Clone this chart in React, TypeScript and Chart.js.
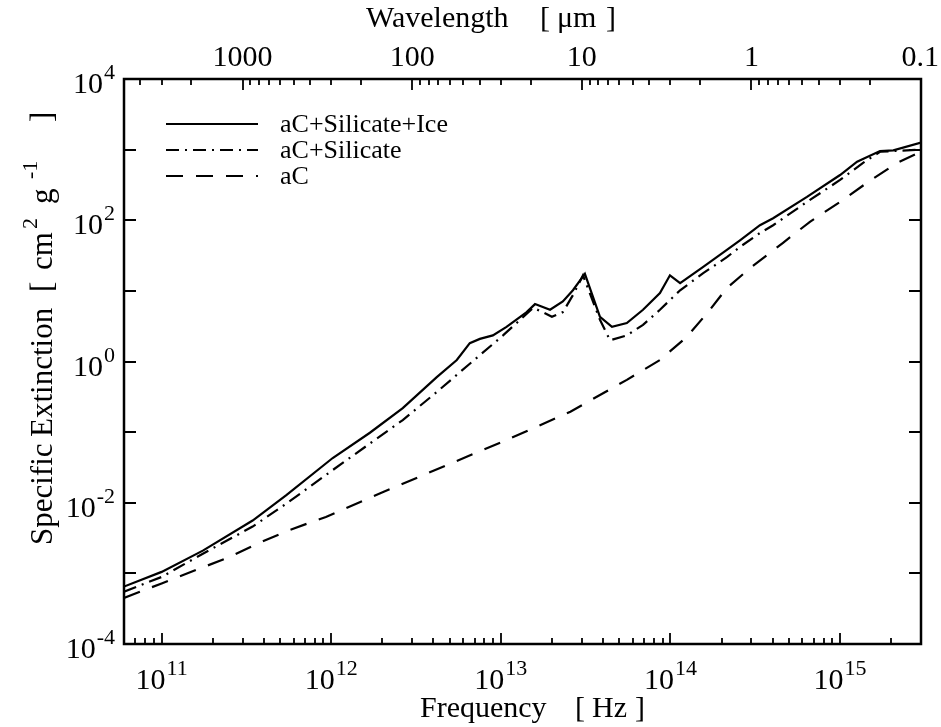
import React, { useEffect, useRef } from "react";
import { Chart, registerables } from "chart.js";

Chart.register(...registerables);

// ---- data (frequency in Hz, specific extinction in cm^2 g^-1) ----
const FREQ_ICE = [6.0e10, 1.0e11, 1.75e11, 3.44e11, 5.46e11, 1.02e12, 1.69e12, 2.64e12, 4.19e12, 5.5e12, 6.56e12, 7.52e12, 8.97e12, 1.08e13, 1.42e13, 1.59e13, 1.95e13, 2.32e13, 2.66e13, 3.13e13, 3.84e13, 4.52e13, 5.53e13, 6.89e13, 8.67e13, 9.93e13, 1.14e14, 1.56e14, 2.15e14, 2.57e14, 3.37e14, 4.03e14, 6.38e14, 1.0e15, 1.26e15, 1.72e15, 2.06e15, 3.0e15];
const KAPPA_ICE = [6.5e-4, 1.05e-3, 2.1e-3, 5.6e-3, 1.29e-2, 4.3e-2, 9.8e-2, 0.219, 0.6, 1.05, 1.82, 2.09, 2.34, 3.09, 5.0, 6.5, 5.4, 7.1, 10.2, 17.4, 4.3, 3.1, 3.5, 5.4, 9.3, 16.6, 12.9, 21.9, 38, 52, 85, 107, 214, 437, 676, 955, 977, 1259];

const FREQ_SIL = [6.0e10, 1.0e11, 1.75e11, 3.44e11, 5.46e11, 1.02e12, 1.69e12, 2.64e12, 4.19e12, 6.56e12, 1.03e13, 1.55e13, 1.77e13, 2.0e13, 2.32e13, 2.66e13, 3.05e13, 3.84e13, 4.4e13, 5.53e13, 6.89e13, 8.67e13, 1.14e14, 1.56e14, 2.15e14, 2.57e14, 3.37e14, 4.03e14, 6.38e14, 1.0e15, 1.36e15, 1.72e15, 3.0e15];
const KAPPA_SIL = [5.5e-4, 8.9e-4, 1.9e-3, 4.6e-3, 9.8e-3, 2.9e-2, 6.9e-2, 0.148, 0.37, 0.93, 2.34, 5.75, 5.0, 4.3, 5.0, 8.7, 16.6, 3.9, 2.0, 2.34, 3.3, 5.4, 10.2, 17.8, 30, 42, 66, 85, 182, 372, 646, 933, 1000];

const FREQ_AC = [6.0e10, 1.0e11, 1.6e11, 2.5e11, 3.76e11, 5.66e11, 9.3e11, 1.93e12, 4.79e12, 1.13e13, 2.57e13, 5.53e13, 8.67e13, 1.25e14, 1.71e14, 2.15e14, 2.95e14, 4.61e14, 6.64e14, 1.0e15, 1.44e15, 2.16e15, 3.0e15];
const KAPPA_AC = [4.5e-4, 7.2e-4, 1.12e-3, 1.7e-3, 2.7e-3, 4.1e-3, 6.3e-3, 1.35e-2, 3.4e-2, 8.1e-2, 0.195, 0.55, 1.05, 2.24, 5.4, 11.0, 21, 48, 95, 182, 339, 646, 933];

const SERIES_LABELS = ["aC+Silicate+Ice", "aC+Silicate", "aC"];

// ---- axes ----
const X_MIN = 6e10;
const X_MAX = 3e15;
const Y_MIN = 1e-4;
const Y_MAX = 1e4;
const FREQ_TICK_EXPONENTS = [11, 12, 13, 14, 15];
const KAPPA_TICK_EXPONENTS = [-4, -3, -2, -1, 0, 1, 2, 3, 4];
const KAPPA_LABEL_EXPONENTS = [-4, -2, 0, 2, 4];
const WAVELENGTH_TICKS = [1000, 100, 10, 1, 0.1];
const WAVELENGTH_LABELS = ["1000", "100", "10", "1", "0.1"];
const C_UM_HZ = 3e14; // speed of light in micron * Hz

const FONT = "'Liberation Serif', 'Times New Roman', serif";

function toXY(xs: number[], ys: number[]) {
  return xs.map((x, i) => ({ x, y: ys[i] }));
}

function drawPow(ctx: CanvasRenderingContext2D, exp: string, x: number, y: number, align: "center" | "right") {
  const BASE = 30;
  const EXP = 22;
  ctx.font = `${BASE}px ${FONT}`;
  const wb = ctx.measureText("10").width;
  ctx.font = `${EXP}px ${FONT}`;
  const we = ctx.measureText(exp).width;
  const total = wb + 1 + we;
  const start = align === "center" ? x - total / 2 : x - total;
  ctx.textAlign = "left";
  ctx.textBaseline = "alphabetic";
  ctx.font = `${BASE}px ${FONT}`;
  ctx.fillText("10", start, y);
  ctx.font = `${EXP}px ${FONT}`;
  ctx.fillText(exp, start + wb + 1, y - 14);
}

const framePlugin = {
  id: "framePlugin",
  afterDraw(chart: any) {
    const ctx: CanvasRenderingContext2D = chart.ctx;
    const { left, right, top, bottom } = chart.chartArea;
    const xs = chart.scales.x;
    const ys = chart.scales.y;
    ctx.save();
    ctx.strokeStyle = "#000";
    ctx.fillStyle = "#000";
    ctx.setLineDash([]);
    ctx.lineWidth = 2.5;
    ctx.strokeRect(left, top, right - left, bottom - top);

    ctx.lineWidth = 1.8;
    // bottom frequency ticks
    for (let d = 10; d <= 15; d++) {
      for (let m = 1; m <= 9; m++) {
        const v = m * Math.pow(10, d);
        if (v <= X_MIN * 1.001 || v >= X_MAX * 0.999) continue;
        const px = Math.round(xs.getPixelForValue(v));
        const len = m === 1 ? 11 : 6;
        ctx.beginPath();
        ctx.moveTo(px, bottom);
        ctx.lineTo(px, bottom - len);
        ctx.stroke();
      }
    }
    // top wavelength ticks
    for (let d = -1; d <= 3; d++) {
      for (let m = 1; m <= 9; m++) {
        const lam = m * Math.pow(10, d);
        const v = C_UM_HZ / lam;
        if (v <= X_MIN * 1.001 || v >= X_MAX * 0.999) continue;
        const px = Math.round(xs.getPixelForValue(v));
        const len = m === 1 ? 11 : 6;
        ctx.beginPath();
        ctx.moveTo(px, top);
        ctx.lineTo(px, top + len);
        ctx.stroke();
      }
    }
    // y ticks both sides
    KAPPA_TICK_EXPONENTS.forEach((e) => {
      const v = Math.pow(10, e);
      if (v <= Y_MIN || v >= Y_MAX) return;
      const py = Math.round(ys.getPixelForValue(v));
      ctx.beginPath();
      ctx.moveTo(left, py);
      ctx.lineTo(left + 12, py);
      ctx.moveTo(right, py);
      ctx.lineTo(right - 12, py);
      ctx.stroke();
    });

    // bottom labels
    FREQ_TICK_EXPONENTS.forEach((e) => {
      const px = xs.getPixelForValue(Math.pow(10, e));
      drawPow(ctx, String(e), px, 689, "center");
    });
    // left labels
    KAPPA_LABEL_EXPONENTS.forEach((e) => {
      const py = ys.getPixelForValue(Math.pow(10, e));
      drawPow(ctx, String(e), 115, py + 14, "right");
    });
    // top labels
    ctx.font = `30px ${FONT}`;
    ctx.textAlign = "center";
    ctx.textBaseline = "alphabetic";
    WAVELENGTH_TICKS.forEach((lam, i) => {
      const px = xs.getPixelForValue(C_UM_HZ / lam);
      ctx.fillText(WAVELENGTH_LABELS[i], Math.min(px, 941 - ctx.measureText(WAVELENGTH_LABELS[i]).width / 2 - 2), 66);
    });

    // axis titles
    ctx.textAlign = "left";
    ctx.font = `30px ${FONT}`;
    ctx.fillText("Wavelength", 366, 27);
    ctx.fillText("[", 540, 27);
    ctx.fillText("\u03bcm", 557, 27);
    ctx.fillText("]", 606, 27);
    ctx.fillText("Frequency", 420, 717);
    ctx.fillText("[", 575, 717);
    ctx.fillText("Hz", 592, 717);
    ctx.fillText("]", 635, 717);

    // y title rotated
    const yPart = (t: string, size: number, pageY: number, dx: number) => {
      ctx.save();
      ctx.translate(52 - dx, pageY);
      ctx.rotate(-Math.PI / 2);
      ctx.font = `${size}px ${FONT}`;
      ctx.fillText(t, 0, 0);
      ctx.restore();
    };
    yPart("Specific", 31, 545, 0);
    yPart("Extinction", 31, 437, 0);
    yPart("[", 31, 292, 0);
    yPart("cm", 31, 270, 0);
    yPart("2", 22, 229, 15);
    yPart("g", 31, 204, 0);
    yPart("-1", 22, 179, 15);
    yPart("]", 31, 122, 0);

    // legend
    const ds = chart.data.datasets;
    ctx.lineWidth = 2.2;
    ds.forEach((d: any, i: number) => {
      const y = 124 + i * 26;
      ctx.setLineDash(d.borderDash || []);
      ctx.beginPath();
      ctx.moveTo(166, y);
      ctx.lineTo(258, y);
      ctx.stroke();
      ctx.setLineDash([]);
      ctx.font = `26px ${FONT}`;
      ctx.fillText(d.label, 280, y + 8);
    });
    ctx.restore();
  },
};

export default function App() {
  const ref = useRef<HTMLCanvasElement | null>(null);
  useEffect(() => {
    document.body.style.margin = "0";
    document.body.style.background = "#fff";
    const canvas = ref.current!;
    const common = { borderColor: "#000", borderWidth: 2.2, pointRadius: 0, tension: 0, fill: false };
    const chart = new Chart(canvas, {
      type: "line",
      data: {
        datasets: [
          { ...common, label: SERIES_LABELS[0], data: toXY(FREQ_ICE, KAPPA_ICE), borderDash: [] },
          { ...common, label: SERIES_LABELS[1], data: toXY(FREQ_SIL, KAPPA_SIL), borderDash: [13, 6, 2, 6] },
          { ...common, label: SERIES_LABELS[2], data: toXY(FREQ_AC, KAPPA_AC), borderDash: [17, 13] },
        ],
      },
      options: {
        responsive: false,
        animation: false,
        devicePixelRatio: 1,
        layout: { padding: { left: 124, right: 20, top: 79, bottom: 83 } },
        scales: {
          x: { type: "logarithmic", min: X_MIN, max: X_MAX, display: false },
          y: { type: "logarithmic", min: Y_MIN, max: Y_MAX, display: false },
        },
        plugins: {
          legend: { display: false },
          tooltip: { enabled: false },
        },
      },
      plugins: [framePlugin],
    });
    return () => chart.destroy();
  }, []);
  return (
    <div style={{ width: 941, height: 727, background: "#fff" }}>
      <canvas ref={ref} width={941} height={727} style={{ display: "block" }} />
    </div>
  );
}
